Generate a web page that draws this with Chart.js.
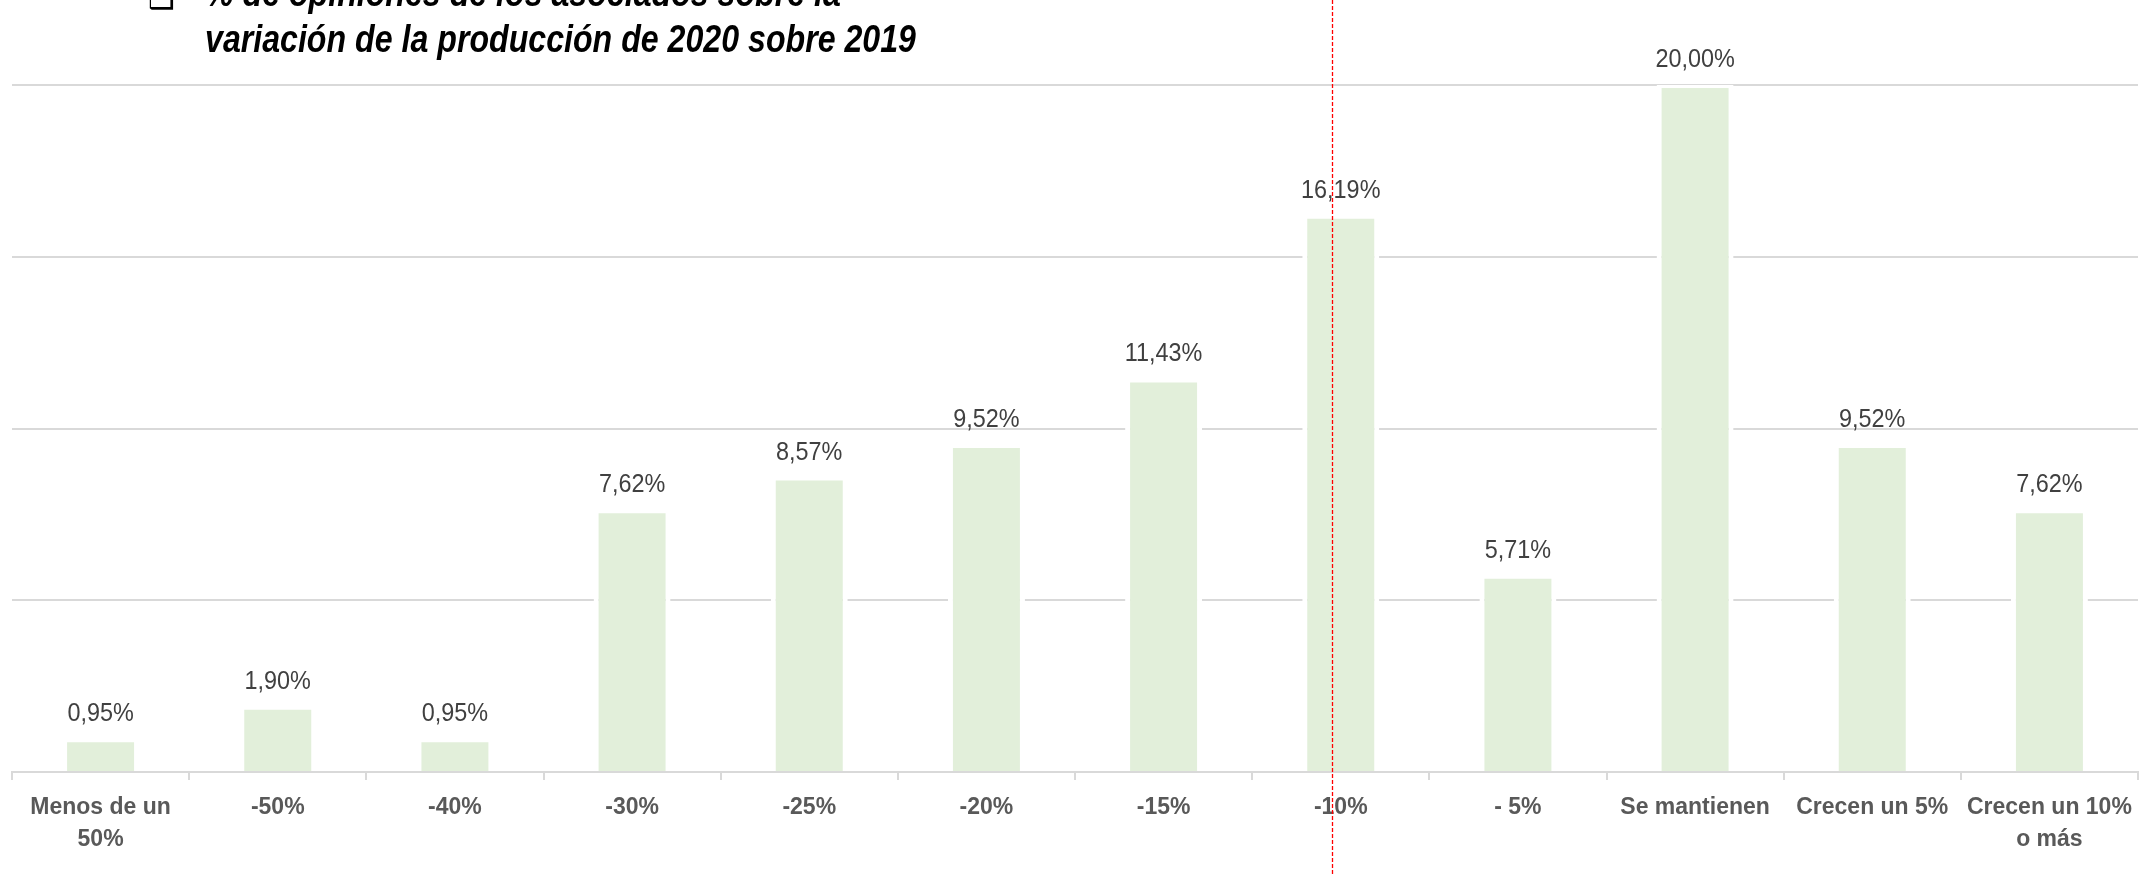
<!DOCTYPE html>
<html>
<head>
<meta charset="utf-8">
<script src="https://cdn.jsdelivr.net/npm/chart.js@4.4.1/dist/chart.umd.min.js"></script>
<style>
  html, body { margin: 0; padding: 0; background: #ffffff; }
  #wrap { position: relative; width: 2149px; height: 874px; }
</style>
</head>
<body>
<div id="wrap"><canvas id="c"></canvas></div>
<script>
// ---- data ----
const categories = [
  ["Menos de un", "50%"], "-50%", "-40%", "-30%", "-25%", "-20%", "-15%",
  "-10%", "- 5%", "Se mantienen", "Crecen un 5%", ["Crecen un 10%", "o más"]
];
const percentValues = [0.95, 1.90, 0.95, 7.62, 8.57, 9.52, 11.43, 16.19, 5.71, 20.00, 9.52, 7.62];
const titleLines = [
  "% de opiniones de los asociados sobre la",
  "variación de la producción de 2020 sobre 2019"
];
const yTicks = [0, 5, 10, 15, 20];

const fmt = v => v.toFixed(2).replace('.', ',') + '%';

const labelPlugin = {
  id: 'barLabels',
  afterDatasetsDraw(chart) {
    const ctx = chart.ctx;
    const meta = chart.getDatasetMeta(0);
    ctx.font = '26px "Liberation Sans", Arial, sans-serif';
    ctx.fillStyle = '#404040';
    ctx.textAlign = 'center';
    ctx.textBaseline = 'alphabetic';
    meta.data.forEach((bar, i) => {
      ctx.save();
      ctx.translate(bar.x, bar.y - 18);
      ctx.scale(0.9, 1);
      ctx.fillText(fmt(percentValues[i]), 0, 0);
      ctx.restore();
    });
  }
};

const overlayPlugin = {
  id: 'overlay',
  afterDraw(chart) {
    const ctx = chart.ctx;
    const xs = chart.scales.x;
    const catW = (xs.right - xs.left) / categories.length;
    // red dashed marker line near the "-10%" category
    const lx = Math.round(xs.getPixelForValue(7) - 0.05 * catW) + 0.5;
    ctx.save();
    ctx.strokeStyle = '#ff0000';
    ctx.lineWidth = 1.3;
    ctx.setLineDash([4, 2]);
    ctx.beginPath();
    ctx.moveTo(lx, 0);
    ctx.lineTo(lx, chart.height);
    ctx.stroke();
    ctx.restore();

    // title (partly cut at top), condensed horizontally like the original face
    ctx.save();
    ctx.fillStyle = '#000000';
    ctx.textAlign = 'left';
    ctx.textBaseline = 'alphabetic';
    ctx.font = '30px "DejaVu Sans", sans-serif';
    ctx.fillText('\u2751', 148, 8);
    ctx.font = 'italic bold 39px "Liberation Sans", sans-serif';
    const sx = 711 / ctx.measureText(titleLines[1]).width;
    ctx.translate(205, 0);
    ctx.scale(sx, 1);
    ctx.fillText(titleLines[0], 0, 6);
    ctx.fillText(titleLines[1], 0, 52);
    ctx.restore();
  }
};

new Chart(document.getElementById('c'), {
  type: 'bar',
  data: {
    labels: categories,
    datasets: [{
      data: percentValues,
      backgroundColor: '#e2efda',
      borderColor: '#ffffff',
      borderWidth: { left: 5, right: 5, top: 3, bottom: 0 },
      borderSkipped: false,
      barPercentage: 0.4345,
      categoryPercentage: 1.0
    }]
  },
  options: {
    responsive: true,
    maintainAspectRatio: false,
    devicePixelRatio: 1,
    animation: false,
    layout: { padding: { left: 12, right: 11, top: 85, bottom: 0 } },
    plugins: {
      legend: { display: false },
      title: { display: false },
      tooltip: { enabled: false }
    },
    scales: {
      x: {
        offset: true,
        grid: {
          offset: true,
          drawOnChartArea: false,
          drawTicks: true,
          tickLength: 8,
          color: '#d9d9d9',
          lineWidth: 2
        },
        border: { display: true, color: '#d9d9d9', width: 2 },
        ticks: {
          color: '#595959',
          font: { family: '"Liberation Sans", Arial, sans-serif', size: 23, weight: 'bold', lineHeight: 1.39 },
          padding: 12,
          maxRotation: 0,
          autoSkip: false
        },
        afterFit(scale) { scale.height = 102; }
      },
      y: {
        min: 0,
        max: yTicks[yTicks.length - 1],
        afterBuildTicks(scale) { scale.ticks = yTicks.map(v => ({ value: v })); },
        grid: { drawTicks: false, color: '#d9d9d9', lineWidth: 2 },
        border: { display: false },
        ticks: { display: false },
        afterFit(scale) { scale.width = 0; }
      }
    }
  },
  plugins: [labelPlugin, overlayPlugin]
});
</script>
</body>
</html>
